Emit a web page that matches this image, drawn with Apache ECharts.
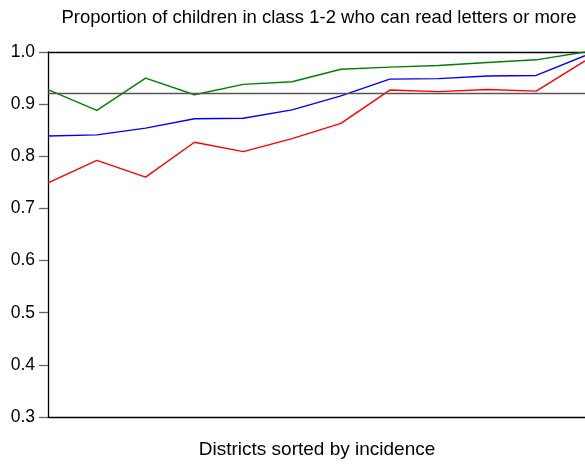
<!DOCTYPE html>
<html>
<head>
<meta charset="utf-8">
<script src="https://cdn.jsdelivr.net/npm/echarts@6/dist/echarts.min.js"></script>
<style>
  html, body { margin: 0; padding: 0; background: #fff; }
  #chart { width: 585px; height: 464px; }
</style>
</head>
<body>
<div id="chart"></div>
<script>
// Districts, in order of incidence
const districts = ['1', '2', '3', '4', '5', '6', '7', '8', '9', '10', '11', '12'];

// Proportion of class 1-2 children reading letters or more
const greenSeries = [0.928, 0.888, 0.950, 0.918, 0.938, 0.943, 0.967, 0.971, 0.974, 0.980, 0.985, 1.000];
const blueSeries  = [0.839, 0.841, 0.854, 0.872, 0.873, 0.889, 0.916, 0.948, 0.949, 0.954, 0.955, 0.993];
const redSeries   = [0.749, 0.792, 0.760, 0.827, 0.809, 0.834, 0.863, 0.927, 0.924, 0.928, 0.925, 0.983];

// Reference level
const referenceLevel = 0.92;

// Y-axis range
const yMin = 0.3, yMax = 1.0, yStep = 0.1;

const chart = echarts.init(document.getElementById('chart'), null, { renderer: 'canvas' });

const font = 'Liberation Sans, Arial, sans-serif';

function lineSeries(data, color, extra) {
  return Object.assign({
    type: 'line',
    data: data,
    showSymbol: false,
    symbol: 'none',
    lineStyle: { color: color, width: 1.4 },
    itemStyle: { color: color },
    animation: false,
    z: 3
  }, extra || {});
}

chart.setOption({
  animation: false,
  title: [
    {
      text: 'Proportion of children in class 1-2 who can read letters or more',
      left: 314, top: 3, textAlign: 'center',
      textStyle: { fontFamily: font, fontSize: 18.5, fontWeight: 'normal', color: '#000' }
    },
    {
      text: 'Districts sorted by incidence',
      left: 312, top: 435, textAlign: 'center',
      textStyle: { fontFamily: font, fontSize: 19, fontWeight: 'normal', color: '#000' }
    }
  ],
  grid: { left: 48, right: 0, top: 52, bottom: 47 },
  xAxis: [
    {
      type: 'category', data: districts, boundaryGap: false,
      axisLine: { show: true, lineStyle: { color: '#000', width: 1.3 } },
      axisTick: { show: false }, axisLabel: { show: false }, splitLine: { show: false }
    },
    {
      type: 'category', data: districts, boundaryGap: false, position: 'top',
      axisLine: { show: true, lineStyle: { color: '#000', width: 1.3 } },
      axisTick: { show: false }, axisLabel: { show: false }, splitLine: { show: false }
    }
  ],
  yAxis: {
    type: 'value', min: yMin, max: yMax, interval: yStep,
    axisLine: { show: true, lineStyle: { color: '#000', width: 1.3 } },
    axisTick: { show: true, length: 9, lineStyle: { color: '#666', width: 1.3 } },
    axisLabel: {
      fontFamily: font, fontSize: 17.5, color: '#000', margin: 13,
      formatter: v => v.toFixed(1)
    },
    splitLine: { show: false }
  },
  series: [
    lineSeries(greenSeries, '#008000', {
      markLine: {
        silent: true, symbol: 'none', label: { show: false },
        lineStyle: { color: '#555', width: 1.3, type: 'solid' },
        data: [{ yAxis: referenceLevel }],
        animation: false
      },
      z: 3
    }),
    lineSeries(blueSeries, '#0000ff'),
    lineSeries(redSeries, '#ff0000')
  ]
});
</script>
</body>
</html>
